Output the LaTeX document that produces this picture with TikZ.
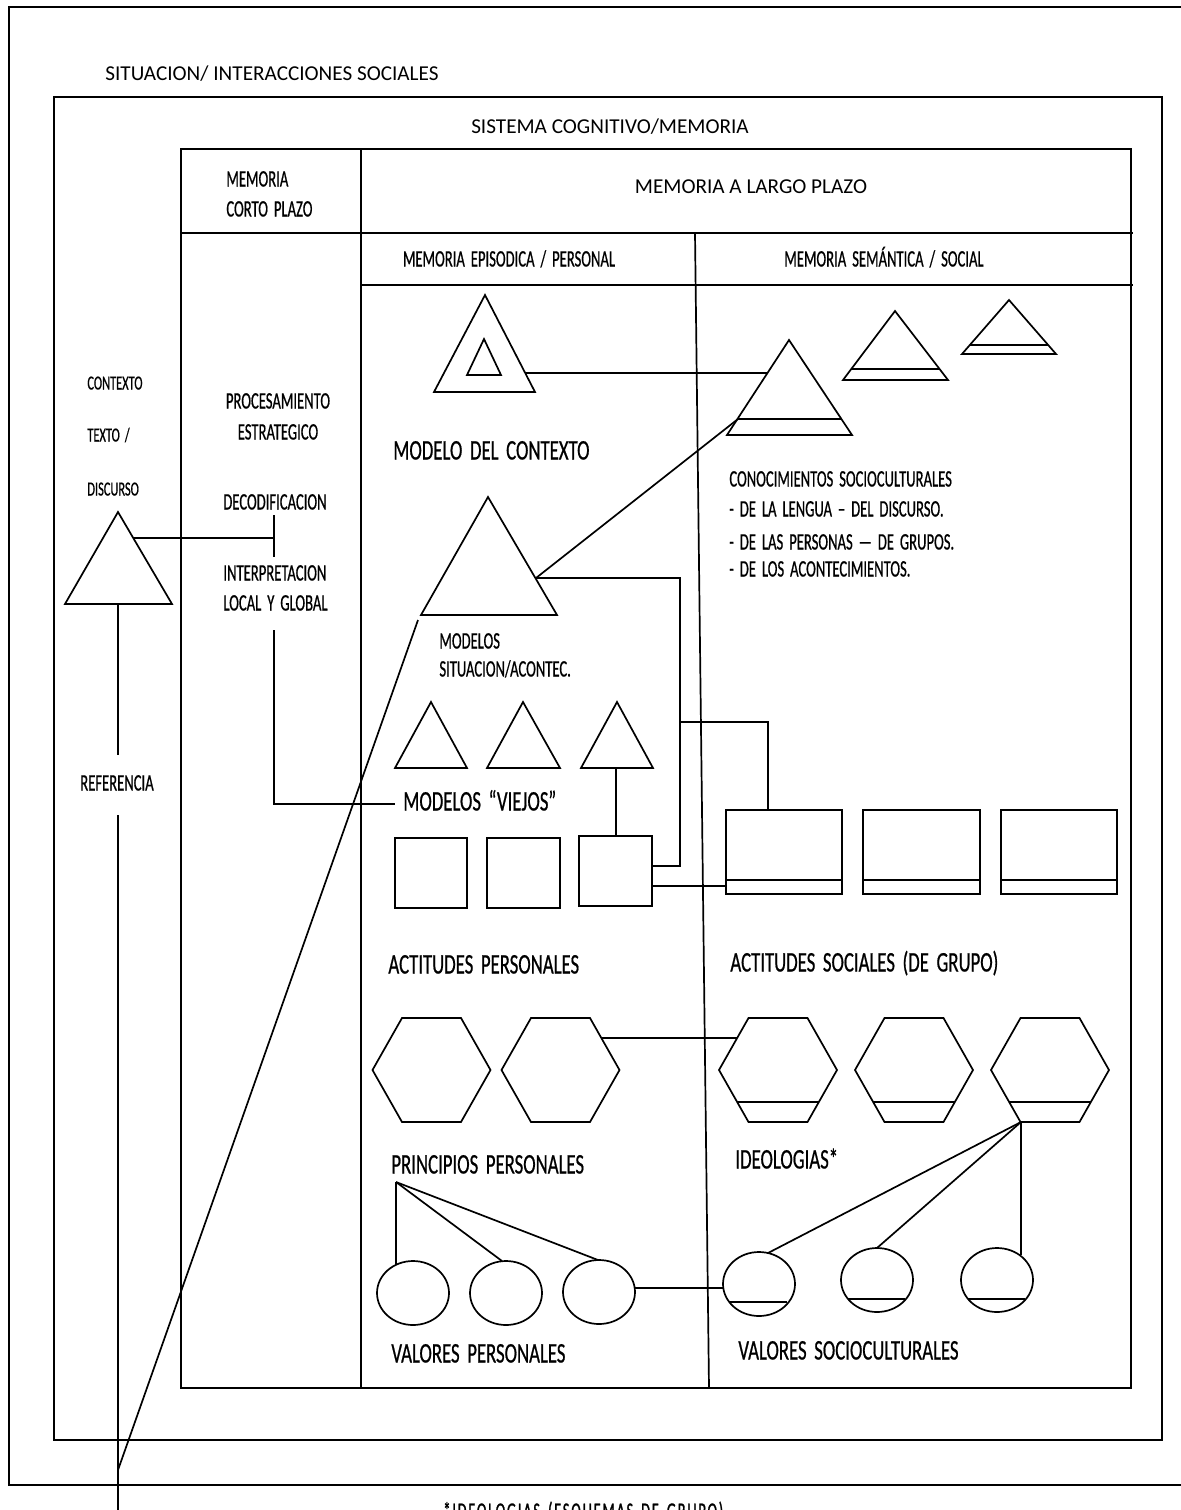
\documentclass[tikz,border=0pt]{standalone}
\usepackage{fontspec}
\setmainfont{Carlito}
\newfontfamily\condf[FakeStretch=0.62,WordSpace=1.8,FakeBold=0.6]{Carlito}
\newfontfamily\condg[FakeStretch=0.66,WordSpace=1.8,FakeBold=0.6]{Carlito}
\newfontfamily\condsp[FakeStretch=0.62,WordSpace=1.6,LetterSpace=8,FakeBold=1.2]{Carlito}
\usetikzlibrary{calc}
\tikzset{
  lbl/.style={inner sep=0pt, text height=0.65em, text depth=0pt},
  bigt/.style={lbl, font=\condg\fontsize{14.2}{16}\selectfont},
  medt/.style={lbl, font=\condf\fontsize{11.8}{13}\selectfont},
  smlt/.style={lbl, font=\condf\fontsize{10}{12}\selectfont},
  calt/.style={lbl, font=\fontsize{10.6}{12}\selectfont},
  frame/.style={line width=1.1pt},
  wire/.style={line width=0.85pt},
  hexa/.style={wire},
}
\begin{document}
\begin{tikzpicture}[x=0.5pt,y=-0.5pt,line join=miter]
\useasboundingbox (0,0) rectangle (1181,1510);
% ---------- frames ----------
\draw[frame] (9,7) rectangle (1220,1485);
\draw[frame] (54,97) rectangle (1162,1440);
\draw[frame] (181,149) rectangle (1131,1388);
\draw[frame] (361,149) -- (361,1388);
\draw[frame] (181,233) -- (1133,233);
\draw[frame] (361,285) -- (1133,285);
\draw[wire] (695,233) -- (709,1388);
% ---------- headings ----------
\node[calt,anchor=west] (tsit) at (105,74) {SITUACION/ INTERACCIONES SOCIALES};
\node[calt] (tsis) at (610,127) {SISTEMA COGNITIVO/MEMORIA};
\node[medt,anchor=west] (tmcp1) at (226,180) {MEMORIA};
\node[medt,anchor=west] (tmcp2) at (226,210) {CORTO PLAZO};
\node[calt] (tmlp) at (751,187) {MEMORIA A LARGO PLAZO};
\node[medt] (tepi) at (509,260) {MEMORIA EPISODICA / PERSONAL};
\node[medt] (tsem) at (884,260) {MEMORIA SEMÁNTICA / SOCIAL};
% ---------- left column ----------
\node[smlt,anchor=west] (tctx) at (87,383) {CONTEXTO};
\node[smlt,anchor=west] (ttxt) at (87,435) {TEXTO /};
\node[smlt,anchor=west] (tdis) at (87,489) {DISCURSO};
\node[medt] (tpro) at (278,402) {PROCESAMIENTO};
\node[medt] (test) at (278,433) {ESTRATEGICO};
\node[medt] (tdec) at (275,503) {DECODIFICACION};
\node[medt,anchor=west] (tint) at (223,574) {INTERPRETACION};
\node[medt,anchor=west] (tloc) at (223,604) {LOCAL Y GLOBAL};
\node[medt] (tref) at (117,784) {REFERENCIA};
% discourse triangle
\draw[wire] (118,512) -- (172,604) -- (65,604) -- cycle;
\coordinate (dR) at (134,538);
\coordinate (dB) at (118,604);
\coordinate (decM) at (274,538);
\coordinate (decT) at (274,515);
\coordinate (decB) at (274,557);
\draw[wire] (dR) -- (decM);
\draw[wire] (decT) -- (decB);
\coordinate (intB) at (274,630);
\coordinate (vjL) at (395,804);
\draw[wire] (intB) -- (intB |- vjL) -- (vjL);
\coordinate (refT) at (118,755);
\coordinate (refB) at (118,815);
\coordinate (refEnd) at (118,1530);
\draw[wire] (dB) -- (refT);
\draw[wire] (refB) -- (refEnd);
% ---------- episodic: context model ----------
\draw[wire] (485,295) -- (535,392) -- (434,392) -- cycle;
\draw[wire] (484,339) -- (501,375) -- (467,375) -- cycle;
\coordinate (mcR) at (525,373);
\node[bigt,anchor=west] (tmc) at (393,453) {MODELO DEL CONTEXTO};
% situation models
\draw[wire] (488,497) -- (557,615) -- (421,615) -- cycle;
\coordinate (msR) at (536,578);
\coordinate (msL) at (418,620);
\coordinate (slantEnd) at (118,1470);
\draw[wire] (msL) -- (slantEnd);
\node[medt,anchor=west] (tms1) at (439,642) {MODELOS};
\node[medt,anchor=west] (tms2) at (439,670) {SITUACION/ACONTEC.};
% old models
\draw[wire] (431,702) -- (467,768) -- (395,768) -- cycle;
\draw[wire] (523,702) -- (560,768) -- (487,768) -- cycle;
\draw[wire] (617,702) -- (653,768) -- (581,768) -- cycle;
\node[bigt,anchor=west] (tvj) at (403,804) {MODELOS “VIEJOS”};
\draw[wire] (395,838) rectangle (467,908);
\draw[wire] (487,838) rectangle (560,908);
\draw[wire] (579,836) rectangle (652,906);
\coordinate (t3B) at (616,768);
\coordinate (s3T) at (616,836);
\draw[wire] (t3B) -- (s3T);
\node[bigt,anchor=west] (tap) at (388,967) {ACTITUDES PERSONALES};
% ---------- semantic: knowledge triangles ----------
\draw[wire] (789,340) -- (852,435) -- (727,435) -- cycle;
\draw[wire] (737.4,419) -- (841.4,419);
\draw[wire] (895,311) -- (948,380) -- (843,380) -- cycle;
\draw[wire] (851.3,369) -- (939.6,369);
\draw[wire] (1009,300) -- (1056,354) -- (962,354) -- cycle;
\draw[wire] (969.8,345) -- (1048.2,345);
\coordinate (sbL) at (767,373);
\coordinate (sbIn) at (738,419);
\draw[wire] (mcR) -- (sbL);
\draw[wire] (msR) -- (sbIn);
\node[medt,anchor=west] (tcon) at (729,480) {CONOCIMIENTOS SOCIOCULTURALES};
\node[medt,anchor=west] (tcon1) at (729,510) {- DE LA LENGUA – DEL DISCURSO.};
\node[medt,anchor=west] (tcon2) at (729,543) {- DE LAS PERSONAS — DE GRUPOS.};
\node[medt,anchor=west] (tcon3) at (729,570) {- DE LOS ACONTECIMIENTOS.};
% social attitudes boxes
\draw[wire] (726,810) rectangle (842,894); \draw[wire] (726,880) -- (842,880);
\draw[wire] (863,810) rectangle (980,894); \draw[wire] (863,880) -- (980,880);
\draw[wire] (1001,810) rectangle (1117,894); \draw[wire] (1001,880) -- (1117,880);
\coordinate (s3R1) at (652,866);
\coordinate (s3R2) at (652,886);
\coordinate (b1L) at (726,886);
\coordinate (b1T) at (768,810);
\coordinate (jn) at (680,722);
\draw[wire] (msR) -- (680,578) -- (680,866) -- (s3R1);
\draw[wire] (jn) -- (jn -| b1T) -- (b1T);
\draw[wire] (s3R2) -- (b1L);
\node[bigt,anchor=west] (tas) at (730,965) {ACTITUDES SOCIALES (DE GRUPO)};
% ---------- hexagons ----------
\coordinate (p1) at (431.5,1070);
\coordinate (p2) at (560.5,1070);
\coordinate (h1) at (778,1070);
\coordinate (h2) at (914,1070);
\coordinate (h3) at (1050,1070);
\foreach \c in {p1,p2,h1,h2,h3}{
  \draw[hexa,shift={(\c)}] (-59,0) -- (-29.5,-52) -- (29.5,-52) -- (59,0) -- (29.5,52) -- (-29.5,52) -- cycle;
}
\foreach \c in {h1,h2,h3}{
  \draw[wire,shift={(\c)}] (-40.8,32) -- (40.8,32);
}
\draw[wire] ($(p2)+(40.8,-32)$) -- ($(h1)+(-40.8,-32)$);
\node[bigt,anchor=west] (tpp) at (391,1167) {PRINCIPIOS PERSONALES};
\node[bigt,anchor=west] (tid) at (735,1162) {IDEOLOGIAS*};
% ---------- values ----------
\coordinate (e1) at (413,1293);
\coordinate (e2) at (506,1293);
\coordinate (e3) at (599,1292);
\coordinate (se1) at (759,1284);
\coordinate (se2) at (877,1280);
\coordinate (se3) at (997,1280);
\foreach \c in {e1,e2,e3,se1,se2,se3}{
  \draw[wire] (\c) ellipse [x radius=36, y radius=32];
}
\draw[wire] ($(se1)+(-29.8,18)$) -- ($(se1)+(28,18)$);
\draw[wire] ($(se2)+(-29.5,19)$) -- ($(se2)+(28,19)$);
\draw[wire] ($(se3)+(-29.5,19)$) -- ($(se3)+(28,19)$);
\coordinate (pp) at (396,1182);
\draw[wire] (pp) -- (396,1265);
\draw[wire] (pp) -- (502,1261);
\draw[wire] (pp) -- (598,1260);
\draw[wire] ($(e3)+(36,-4)$) -- ($(se1)+(-36,4)$);
\coordinate (h3B) at (1021,1122);
\draw[wire] (h3B) -- (768,1253);
\draw[wire] (h3B) -- (877,1248);
\draw[wire] (h3B) -- (1021,1255);
\node[bigt,anchor=west] (tvp) at (391,1356) {VALORES PERSONALES};
\node[bigt,anchor=west] (tvs) at (738,1353) {VALORES SOCIOCULTURALES};
% ---------- footnote ----------
\node[lbl,anchor=north west,font=\condsp\fontsize{11.5}{13}\selectfont] (tfn) at (443,1505) {*IDEOLOGIAS (ESQUEMAS DE GRUPO)};
\end{tikzpicture}
\end{document}
